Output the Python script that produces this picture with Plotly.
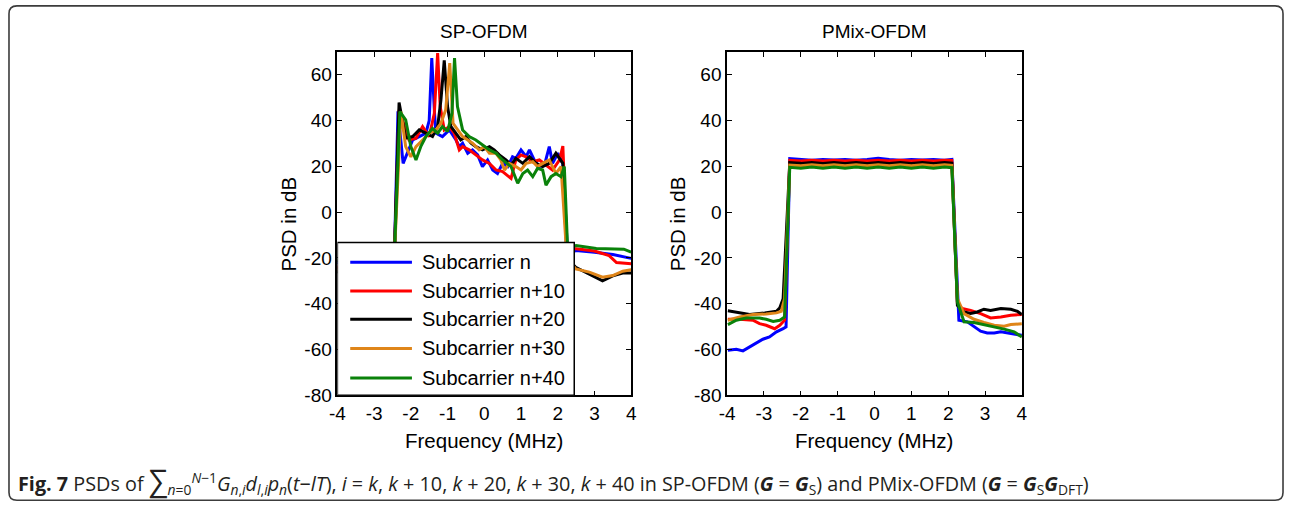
import plotly.graph_objects as go

W, H = 1290, 512

NAMES = ["Subcarrier n", "Subcarrier n+10", "Subcarrier n+20", "Subcarrier n+30", "Subcarrier n+40"]
COLORS = ["#0000ff", "#ff0000", "#000000", "#df8519", "#0a820a"]

# ---------------- SP-OFDM (frequency in MHz, PSD in dB) ----------------
sp_f_n = [-4.0, -3.5, -3.0, -2.5, -2.45, -2.35, -2.21, -2.09, -1.95, -1.77, -1.59, -1.5, -1.43, -1.36,
          -1.32, -1.14, -1.05, -0.95, -0.77, -0.68, -0.59, -0.45, -0.32, -0.18, -0.05, 0.09, 0.23, 0.36,
          0.5, 0.64, 0.77, 0.86, 1.0, 1.14, 1.23, 1.36, 1.5, 1.64, 1.77, 1.86, 2.0, 2.14, 2.27, 2.5,
          3.0, 3.5, 4.0]
sp_psd_n = [-22, -23, -24, -25, -20, 44.0, 21.3, 25.7, 31.5, 33.0, 34.5, 40.0, 67.3, 44.7,
            34.5, 33.0, 34.5, 35.9, 31.5, 28.6, 30.1, 25.7, 27.2, 25.0, 19.9, 22.8, 18.4, 16.9,
            21.3, 19.9, 24.2, 23.5, 27.2, 24.2, 27.2, 22.8, 19.9, 20.6, 28.6, 21.3, 25.7, 21.3, -18.0, -16.8,
            -17.5, -18.5, -20.2]

sp_f_n10 = [-4.0, -3.5, -3.0, -2.5, -2.45, -2.32, -2.05, -1.86, -1.68, -1.5, -1.36, -1.27, -1.2, -1.09,
            -0.95, -0.82, -0.68, -0.59, -0.41, -0.23, -0.05, 0.14, 0.32, 0.5, 0.73, 0.86, 1.0, 1.14,
            1.32, 1.5, 1.68, 1.86, 2.05, 2.14, 2.25, 2.5, 3.0, 3.4, 3.6, 4.0]
sp_psd_n10 = [-24, -25, -26, -26, -20, 44.7, 31.5, 32.3, 37.4, 33.0, 43.2, 69.5, 46.1, 35.9,
              37.4, 34.5, 27.2, 28.6, 27.2, 25.0, 22.8, 21.3, 18.4, 17.7, 14.7, 22.8, 25.0, 24.2,
              22.0, 22.8, 20.6, 18.4, 22.8, 28.9, -16.0, -16.0, -17.0, -19.0, -22.0, -22.5]

sp_f_n20 = [-4.0, -3.5, -3.0, -2.5, -2.45, -2.32, -2.14, -1.95, -1.77, -1.59, -1.41, -1.27, -1.18, -1.09,
            -1.0, -0.91, -0.77, -0.64, -0.5, -0.36, -0.23, -0.05, 0.14, 0.27, 0.41, 0.59, 0.73, 0.86,
            1.05, 1.23, 1.41, 1.59, 1.77, 1.95, 2.14, 2.25, 2.49, 2.86, 3.22, 3.5, 3.77, 4.0]
sp_psd_n20 = [-26, -27, -28, -27, -20, 47.9, 32.3, 33.0, 35.9, 34.5, 33.0, 37.4, 49.0, 66.3,
              46.1, 37.4, 34.5, 31.5, 33.0, 30.1, 28.6, 27.2, 28.6, 27.2, 25.0, 22.8, 20.6, 23.5,
              21.3, 24.2, 21.3, 19.9, 21.3, 25.7, 21.3, -20.0, -24.1, -27.0, -30.0, -27.8, -26.6, -26.6]

sp_f_n30 = [-4.0, -3.5, -3.0, -2.5, -2.45, -2.27, -2.14, -2.0, -1.86, -1.68, -1.5, -1.32, -1.18, -1.05,
            -0.94, -0.85, -0.73, -0.59, -0.45, -0.32, -0.14, 0.0, 0.14, 0.32, 0.45, 0.55, 0.68, 0.86,
            1.0, 1.14, 1.32, 1.45, 1.59, 1.77, 1.95, 2.09, 2.25, 2.49, 2.86, 3.22, 3.5, 3.77, 4.0]
sp_psd_n30 = [-25, -26, -27, -26, -20, 43.9, 28.6, 24.2, 28.6, 31.5, 34.5, 35.9, 38.8, 44.7,
              65.1, 38.8, 35.9, 33.0, 31.5, 30.1, 27.2, 28.6, 25.7, 25.7, 22.8, 18.4, 21.3, 19.9,
              18.4, 21.3, 22.0, 19.9, 21.3, 22.8, 16.9, 19.9, -20.0, -24.8, -26.2, -28.4, -27.7, -25.8, -25.2]

sp_f_n40 = [-4.0, -3.5, -3.0, -2.5, -2.45, -2.30, -2.14, -2.0, -1.86, -1.73, -1.59, -1.41, -1.27, -1.14,
            -1.0, -0.88, -0.81, -0.73, -0.59, -0.41, -0.23, -0.05, 0.14, 0.32, 0.5, 0.73, 0.91, 1.05,
            1.18, 1.32, 1.45, 1.59, 1.68, 1.82, 1.95, 2.09, 2.18, 2.27, 2.5, 3.05, 3.5, 3.8, 4.0]
sp_psd_n40 = [-21, -22, -22, -22, -20, 43.9, 40.3, 28.6, 22.8, 28.6, 33.0, 36.6, 34.5, 37.4,
              35.2, 43.2, 67.3, 46.1, 35.9, 33.0, 31.5, 29.3, 27.2, 25.7, 22.8, 19.9, 12.6, 16.9,
              18.4, 15.5, 19.1, 18.4, 11.8, 15.5, 16.9, 15.5, 19.9, -16.0, -14.6, -15.9, -16.0, -16.2, -17.5]

# ---------------- PMix-OFDM ----------------
# out-of-band skirts (left / right) and the flat in-band plateau
pm_band_f = [-2.3, -2.0, -1.7, -1.4, -1.1, -0.8, -0.5, -0.2, 0.1, 0.4, 0.7, 1.0, 1.3, 1.6, 1.9, 2.1]

pm_left_f_n = [-3.98, -3.75, -3.57, -3.39, -3.21, -3.03, -2.85, -2.66, -2.48, -2.4]
pm_left_n = [-60.3, -59.9, -60.6, -58.9, -57.4, -55.5, -54.5, -52.3, -50.9, -50.1]
pm_band_n = [23.4, 23.0, 22.7, 23.0, 22.8, 23.0, 22.7, 23.0, 23.5, 23.0, 22.7, 23.0, 22.8, 23.0, 22.7, 23.0]
pm_right_f_n = [2.29, 2.52, 2.7, 2.88, 3.06, 3.25, 3.43, 3.7, 4.0]
pm_right_n = [-47.2, -47.9, -50.1, -52.0, -52.8, -52.8, -52.3, -53.0, -53.8]

pm_left_f_n10 = [-3.98, -3.66, -3.3, -3.12, -2.94, -2.71, -2.57, -2.44]
pm_left_n10 = [-46.8, -46.8, -47.2, -48.7, -49.4, -50.9, -49.4, -47.2]
pm_band_n10 = [22.6, 22.3, 22.7, 22.3, 22.7, 22.3, 22.7, 22.3, 22.7, 22.3, 22.7, 22.3, 22.7, 22.3, 22.7, 22.6]
pm_right_f_n10 = [2.25, 2.38, 2.61, 2.88, 3.15, 3.43, 3.7, 4.0]
pm_right_n10 = [-39.9, -42.1, -42.9, -44.3, -46.2, -45.8, -45.0, -44.7]

pm_left_f_n20 = [-3.98, -3.66, -3.39, -2.98, -2.66, -2.57, -2.48]
pm_left_n20 = [-43.1, -44.0, -44.7, -44.0, -43.3, -41.8, -37.8]
pm_band_n20 = [21.6, 21.3, 21.7, 21.3, 21.7, 21.3, 21.7, 21.3, 21.7, 21.3, 21.7, 21.3, 21.7, 21.3, 21.7, 21.4]
pm_right_f_n20 = [2.25, 2.43, 2.61, 2.79, 2.97, 3.15, 3.43, 3.7, 3.88, 4.0]
pm_right_n20 = [-40.7, -43.6, -44.3, -43.6, -42.4, -42.9, -42.1, -42.4, -43.3, -44.7]

pm_left_f_n30 = [-3.98, -3.66, -3.3, -2.94, -2.66, -2.53, -2.44]
pm_left_n30 = [-47.2, -45.8, -44.7, -44.5, -44.0, -43.3, -37.8]
pm_band_n30 = [20.6, 20.3, 20.7, 20.3, 20.7, 20.3, 20.7, 20.3, 20.7, 20.3, 20.7, 20.3, 20.7, 20.3, 20.7, 20.4]
pm_right_f_n30 = [2.25, 2.43, 2.7, 2.97, 3.25, 3.52, 3.7, 4.0]
pm_right_n30 = [-37.8, -44.3, -46.8, -48.2, -49.4, -49.8, -49.1, -48.7]

pm_left_f_n40 = [-3.98, -3.75, -3.48, -3.12, -2.94, -2.75, -2.57, -2.44]
pm_left_n40 = [-49.1, -47.2, -46.2, -46.2, -46.8, -47.7, -47.2, -45.8]
pm_band_n40 = [19.6, 19.2, 19.7, 19.2, 19.7, 19.2, 19.7, 19.2, 19.7, 19.2, 19.7, 19.2, 19.7, 19.2, 19.7, 19.4]
pm_right_f_n40 = [2.25, 2.43, 2.7, 2.97, 3.25, 3.52, 3.79, 4.0]
pm_right_n40 = [-39.2, -47.9, -48.2, -49.1, -50.1, -51.1, -52.3, -54.5]

X_TICKS = [-4, -3, -2, -1, 0, 1, 2, 3, 4]
X_TICK_TEXT = ["-4", "-3", "-2", "-1", "0", "1", "2", "3", "4"]
Y_TICKS = [-80, -60, -40, -20, 0, 20, 40, 60]
Y_TICK_TEXT = ["-80", "-60", "-40", "-20", "0", "20", "40", "60"]

sp_series = [(sp_f_n, sp_psd_n), (sp_f_n10, sp_psd_n10), (sp_f_n20, sp_psd_n20),
             (sp_f_n30, sp_psd_n30), (sp_f_n40, sp_psd_n40)]
pm_series = [
    (pm_left_f_n + pm_band_f + pm_right_f_n, pm_left_n + pm_band_n + pm_right_n),
    (pm_left_f_n10 + pm_band_f + pm_right_f_n10, pm_left_n10 + pm_band_n10 + pm_right_n10),
    (pm_left_f_n20 + pm_band_f + pm_right_f_n20, pm_left_n20 + pm_band_n20 + pm_right_n20),
    (pm_left_f_n30 + pm_band_f + pm_right_f_n30, pm_left_n30 + pm_band_n30 + pm_right_n30),
    (pm_left_f_n40 + pm_band_f + pm_right_f_n40, pm_left_n40 + pm_band_n40 + pm_right_n40),
]

FONT = "Liberation Sans, Arial, sans-serif"

fig = go.Figure()
for (f, p), name, c in zip(sp_series, NAMES, COLORS):
    fig.add_trace(go.Scatter(x=f, y=p, mode="lines", name=name, line=dict(color=c, width=3),
                             xaxis="x", yaxis="y", showlegend=False))
for (f, p), name, c in zip(pm_series, NAMES, COLORS):
    fig.add_trace(go.Scatter(x=f, y=p, mode="lines", name=name, line=dict(color=c, width=3),
                             xaxis="x2", yaxis="y2", showlegend=False))


def px(x):
    return x / W


def py(y):
    return 1 - y / H


axis_common = dict(range=[-4, 4], tickvals=X_TICKS, ticktext=X_TICK_TEXT, ticks="inside", ticklen=5,
                   tickwidth=1, tickcolor="black", showline=True, linecolor="black", linewidth=1.6,
                   mirror="ticks", showgrid=False, zeroline=False,
                   tickfont=dict(family=FONT, size=19, color="black"))
yaxis_common = dict(range=[-80, 70], tickvals=Y_TICKS, ticktext=Y_TICK_TEXT, ticks="inside", ticklen=5,
                    tickwidth=1, tickcolor="black", showline=True, linecolor="black", linewidth=1.6,
                    mirror="ticks", showgrid=False, zeroline=False,
                    tickfont=dict(family=FONT, size=19, color="black"))

# axes boxes (layout pixels)
L1, R1 = 333, 630
L2, R2 = 727, 1025
TOP, BOT = 53, 404

fig.update_layout(
    width=W, height=H, margin=dict(l=0, r=0, t=0, b=0),
    paper_bgcolor="white", plot_bgcolor="white",
    xaxis=dict(domain=[px(L1), px(R1)], anchor="y", **axis_common),
    yaxis=dict(domain=[py(BOT), py(TOP)], anchor="x", **yaxis_common),
    xaxis2=dict(domain=[px(L2), px(R2)], anchor="y2", **axis_common),
    yaxis2=dict(domain=[py(BOT), py(TOP)], anchor="x2", **yaxis_common),
)

ann = []
# subplot titles
for cx, t in [((L1 + R1) / 2, "SP-OFDM"), ((L2 + R2) / 2, "PMix-OFDM")]:
    ann.append(dict(text=t, x=px(cx), y=py(32), xref="paper", yref="paper", showarrow=False,
                    xanchor="center", yanchor="middle", font=dict(family=FONT, size=19, color="black")))
# axis titles
for cx in [(L1 + R1) / 2, (L2 + R2) / 2]:
    ann.append(dict(text="Frequency (MHz)", x=px(cx), y=py(450), xref="paper", yref="paper",
                    showarrow=False, xanchor="center", yanchor="middle",
                    font=dict(family=FONT, size=20.5, color="black")))
for cx in [284, 677]:
    ann.append(dict(text="PSD in dB", x=px(cx), y=py((TOP + BOT) / 2), xref="paper", yref="paper",
                    showarrow=False, textangle=-90, xanchor="center", yanchor="middle",
                    font=dict(family=FONT, size=20.5, color="black")))

# legend drawn inside the SP-OFDM axes
shapes = []
shapes.append(dict(type="rect", xref="x", yref="y", x0=-4, x1=2.45, y0=-80, y1=-13.3,
                   fillcolor="white", line=dict(color="black", width=1.5), layer="above"))
leg_y = [-21.9, -34.4, -46.8, -59.5, -72.4]
for ly, name, c in zip(leg_y, NAMES, COLORS):
    shapes.append(dict(type="line", xref="x", yref="y", x0=-3.65, x1=-1.97, y0=ly, y1=ly,
                       line=dict(color=c, width=3), layer="above"))
    ann.append(dict(text=name, x=-1.74, y=ly, xref="x", yref="y", showarrow=False,
                    xanchor="left", yanchor="middle", font=dict(family=FONT, size=20, color="black")))

# caption
G = "<b><i>G</i></b>"
caption = ("<b>Fig. 7</b> PSDs of <span style='font-size:30px'>∑</span>"
           "<sub><i>n</i>=0</sub><sup><i>N</i>−1</sup>"
           "<i>G</i><sub><i>n</i>,<i>i</i></sub><i>d</i><sub><i>l</i>,<i>i</i></sub>"
           "<i>p</i><sub><i>n</i></sub>(<i>t</i>−<i>lT</i>), <i>i</i> = <i>k</i>, <i>k</i> + 10, "
           "<i>k</i> + 20, <i>k</i> + 30, <i>k</i> + 40 in SP-OFDM (" + G + " = " + G + "<sub>S</sub>) "
           "and PMix-OFDM (" + G + " = " + G + "<sub>S</sub>" + G + "<sub>DFT</sub>)")
ann.append(dict(text=caption, x=px(8), y=py(490), xref="paper", yref="paper", showarrow=False,
                xanchor="left", yanchor="middle", font=dict(family="Open Sans, sans-serif", size=19.8,
                                                           color="#231f20")))

# rounded frame around the whole figure
x0, y0, x1, y1, r = 1.0, 6, 1289.0, 511.2, 8
path = (f"M {px(x0 + r)},{py(y0)} L {px(x1 - r)},{py(y0)} Q {px(x1)},{py(y0)} {px(x1)},{py(y0 + r)} "
        f"L {px(x1)},{py(y1 - r)} Q {px(x1)},{py(y1)} {px(x1 - r)},{py(y1)} "
        f"L {px(x0 + r)},{py(y1)} Q {px(x0)},{py(y1)} {px(x0)},{py(y1 - r)} "
        f"L {px(x0)},{py(y0 + r)} Q {px(x0)},{py(y0)} {px(x0 + r)},{py(y0)} Z")
shapes.append(dict(type="path", xref="paper", yref="paper", path=path,
                   line=dict(color="#3c3c3c", width=1.6), layer="above"))

fig.update_layout(annotations=ann, shapes=shapes)
fig.write_html("out.html")
